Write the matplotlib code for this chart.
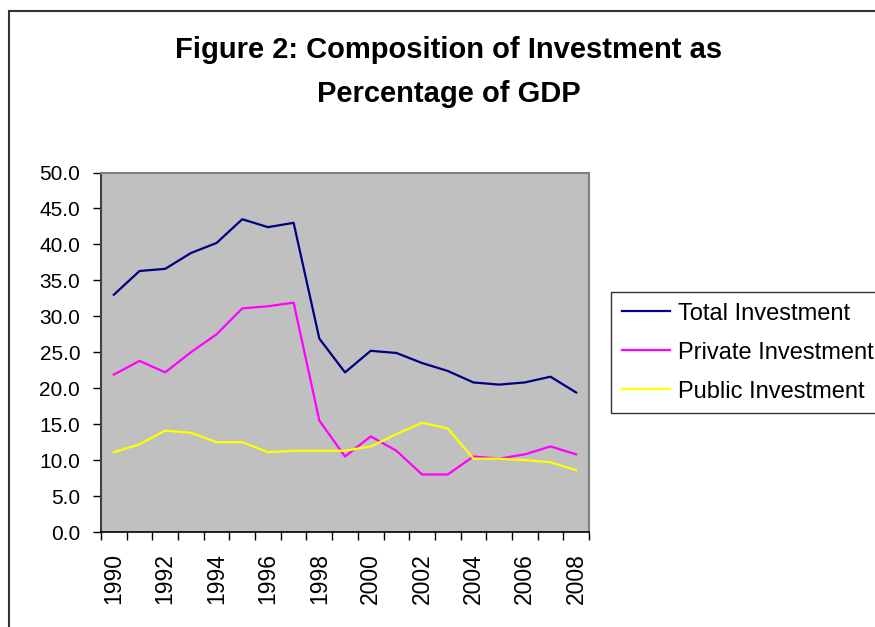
import numpy as np
import matplotlib.pyplot as plt
from matplotlib.patches import Rectangle
from matplotlib.ticker import FixedLocator, FormatStrFormatter

plt.rcParams['font.family'] = ['Liberation Sans', 'DejaVu Sans']

years = list(range(1990, 2009))
total = [33.0, 36.3, 36.6, 38.8, 40.2, 43.5, 42.4, 43.0, 26.9, 22.2,
         25.2, 24.9, 23.5, 22.4, 20.8, 20.5, 20.8, 21.6, 19.4]
private = [21.9, 23.8, 22.2, 25.0, 27.5, 31.1, 31.4, 31.9, 15.5, 10.5,
           13.3, 11.3, 8.0, 8.0, 10.5, 10.2, 10.8, 11.9, 10.8]
public = [11.1, 12.2, 14.1, 13.8, 12.5, 12.5, 11.1, 11.3, 11.3, 11.3,
          11.9, 13.6, 15.2, 14.4, 10.2, 10.2, 10.0, 9.7, 8.6]
names = ['Total Investment', 'Private Investment', 'Public Investment']
colors = ['#000080', '#FF00FF', '#FFFF00']

W, H = 875, 627
fig = plt.figure(figsize=(W / 100, H / 100), dpi=100)

# outer chart border
fig.patches.append(Rectangle((9 / W, -0.05), 1.1, 1 - 11 / H + 0.05,
                             transform=fig.transFigure, fill=False,
                             edgecolor='#333333', linewidth=1.5))

ax = fig.add_axes([101 / W, 1 - 532 / H, 488 / W, 359.5 / H])
ax.set_facecolor('#C0C0C0')

x = np.arange(len(years))
for vals, name, c in zip([total, private, public], names, colors):
    ax.plot(x, vals, color=c, linewidth=1.6, label=name)

ax.set_xlim(-0.5, len(years) - 0.5)
ax.set_ylim(0, 50)
ax.set_yticks(np.arange(0, 50.1, 5))
ax.yaxis.set_major_formatter(FormatStrFormatter('%.1f'))
ax.tick_params(axis='y', length=6, width=1, pad=9, labelsize=15, direction='out')

ax.xaxis.set_major_locator(FixedLocator(np.arange(-0.5, len(years))))
ax.xaxis.set_major_formatter(plt.NullFormatter())
ax.set_xticks(x[::2], minor=True)
ax.set_xticklabels([str(y) for y in years[::2]], minor=True, rotation=90, fontsize=16.5)
ax.tick_params(axis='x', which='major', length=6, width=1, direction='out')
ax.tick_params(axis='x', which='minor', length=0, pad=15)

for s in ['top', 'right']:
    ax.spines[s].set_color('#808080')
    ax.spines[s].set_linewidth(1.5)
ax.spines['left'].set_color('#404040')
ax.spines['left'].set_linewidth(1.5)
ax.spines['bottom'].set_color('black')
ax.spines['bottom'].set_linewidth(1.2)

fig.text(449 / W, 1 - 72 / H,
         'Figure 2: Composition of Investment as\nPercentage of GDP',
         ha='center', va='center', fontsize=21, fontweight='bold',
         linespacing=1.75)

leg = fig.legend(loc='upper left', bbox_to_anchor=(611 / W, 1 - 292 / H),
                 fontsize=17, frameon=True, fancybox=False, handlelength=2.05,
                 handletextpad=0.33, labelspacing=0.72, borderpad=0.45,
                 borderaxespad=0)
leg.get_frame().set_edgecolor('black')
leg.get_frame().set_linewidth(1.0)
for line in leg.get_lines():
    line.set_linewidth(1.6)

fig.savefig('out.png', dpi=100)
